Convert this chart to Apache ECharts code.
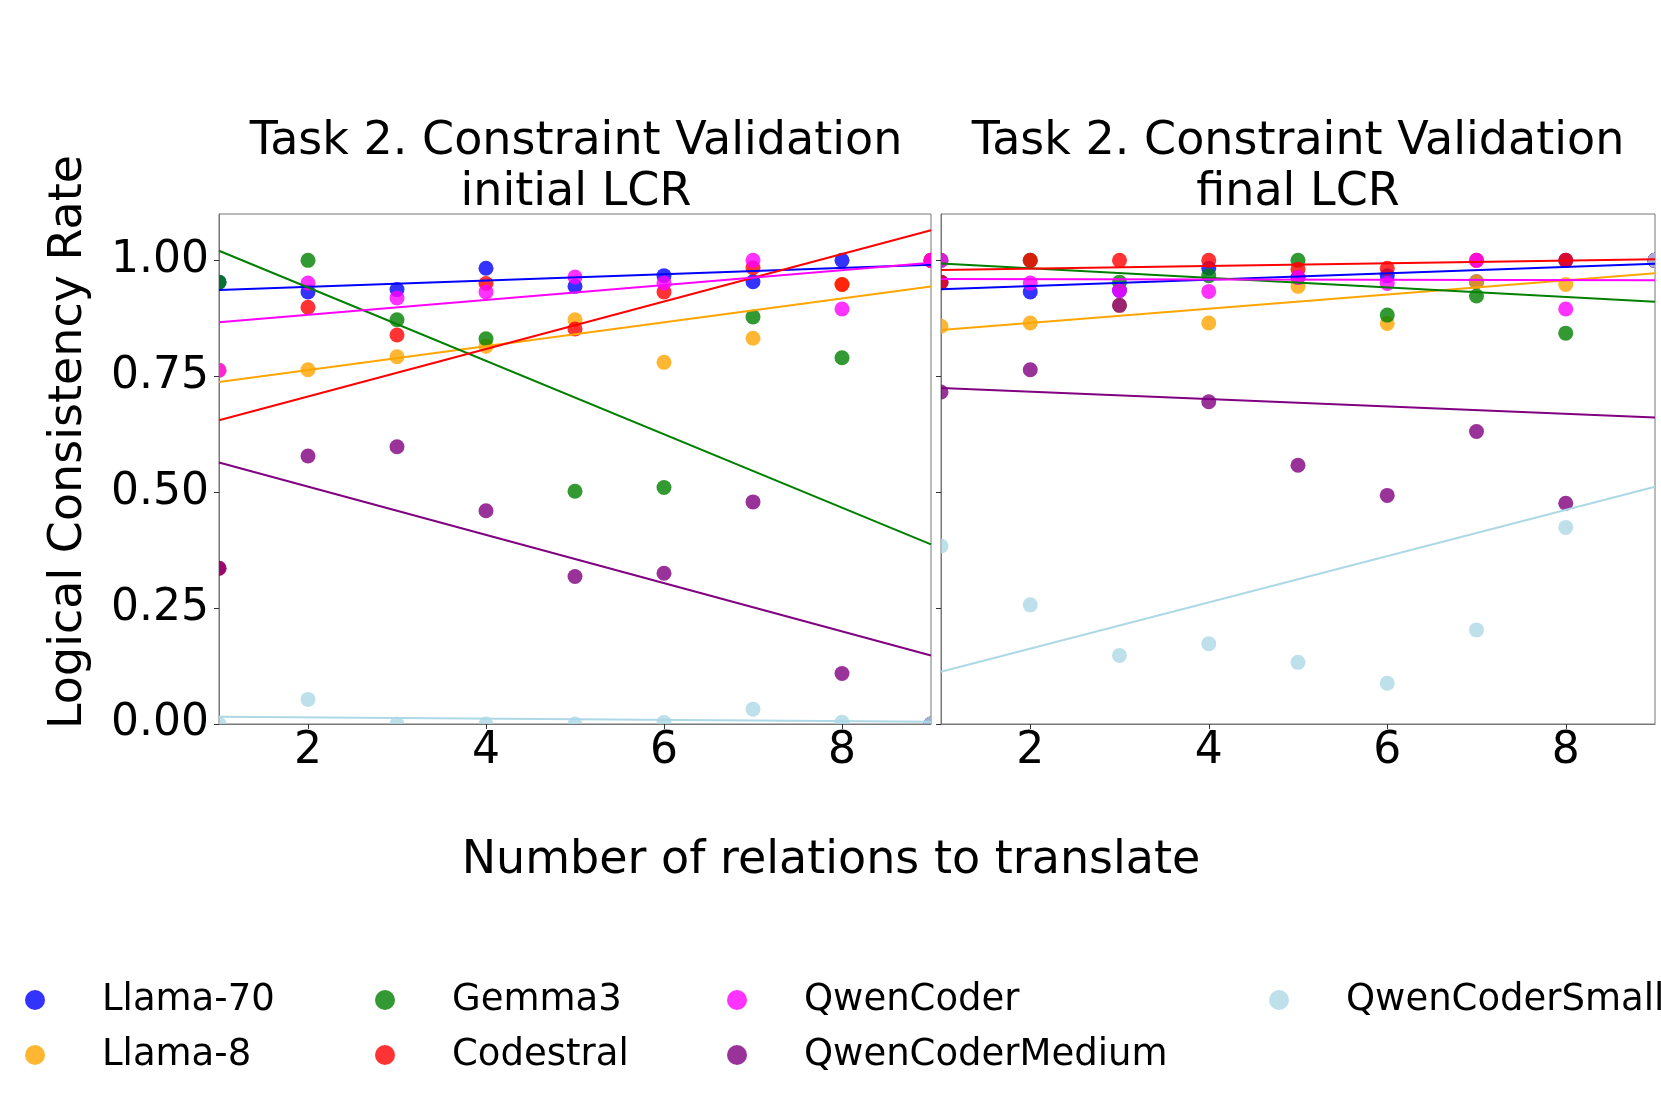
<!DOCTYPE html>
<html>
<head>
<meta charset="utf-8">
<script src="https://cdn.jsdelivr.net/npm/echarts@6/dist/echarts.min.js"></script>
<style>
html,body{margin:0;padding:0;background:#fff;}
#chart{width:1661px;height:1107px;}
</style>
</head>
<body>
<div id="chart"></div>
<script>
// ---- data ----
const xValues = [1, 2, 3, 4, 5, 6, 7, 8, 9];
const modelNames = ['Llama-70', 'Llama-8', 'Gemma3', 'Codestral', 'QwenCoder', 'QwenCoderMedium', 'QwenCoderSmall'];
const xTickValues = [2, 4, 6, 8];
const yTickValues = [0, 0.25, 0.5, 0.75, 1.0];

// initial LCR (left panel)
const initialLlama70   = [0.953, 0.932, 0.937, 0.983, 0.944, 0.967, 0.954, 1.000, 1.000];
const initialLlama8    = [0.763, 0.764, 0.792, 0.815, 0.872, 0.780, 0.832, 0.948, 1.000];
const initialGemma3    = [0.953, 1.000, 0.872, 0.831, 0.502, 0.510, 0.878, 0.790, 0.000];
const initialCodestral = [0.336, 0.899, 0.839, 0.950, 0.852, 0.932, 0.984, 0.948, 1.000];
const initialQwenCoder = [0.763, 0.951, 0.919, 0.932, 0.964, 0.951, 1.000, 0.895, 1.000];
const initialQwenCoderMedium = [0.336, 0.578, 0.598, 0.460, 0.318, 0.325, 0.479, 0.109, 0.000];
const initialQwenCoderSmall  = [0.000, 0.053, 0.000, 0.000, 0.000, 0.003, 0.032, 0.004, 0.000];

// final LCR (right panel)
const finalLlama70   = [0.953, 0.932, 0.935, 0.983, 0.963, 0.967, 0.954, 1.000, 1.000];
const finalLlama8    = [0.858, 0.865, 0.903, 0.865, 0.944, 0.864, 0.954, 0.948, 1.000];
const finalGemma3    = [1.000, 1.000, 0.953, 0.967, 1.000, 0.882, 0.923, 0.843, 1.000];
const finalCodestral = [0.953, 1.000, 1.000, 1.000, 0.981, 0.983, 1.000, 1.000, 1.000];
const finalQwenCoder = [1.000, 0.951, 0.935, 0.933, 0.963, 0.950, 1.000, 0.895, 1.000];
const finalQwenCoderMedium = [0.716, 0.764, 0.903, 0.695, 0.558, 0.493, 0.631, 0.476, 1.000];
const finalQwenCoderSmall  = [0.384, 0.257, 0.148, 0.173, 0.133, 0.088, 0.203, 0.424, 1.000];

const initialData = [initialLlama70, initialLlama8, initialGemma3, initialCodestral, initialQwenCoder, initialQwenCoderMedium, initialQwenCoderSmall];
const finalData = [finalLlama70, finalLlama8, finalGemma3, finalCodestral, finalQwenCoder, finalQwenCoderMedium, finalQwenCoderSmall];

// ---- styles ----
const lineColors = ['#0000ff', '#ffa500', '#008000', '#ff0000', '#ff00ff', '#800080', '#add8e6'];
const dotColors = ['rgba(0,0,255,0.8)', 'rgba(255,165,0,0.8)', 'rgba(0,128,0,0.8)', 'rgba(255,0,0,0.8)',
                   'rgba(255,0,255,0.8)', 'rgba(128,0,128,0.8)', 'rgba(173,216,230,0.8)'];
const FONT = 'DejaVu Sans';
const DOT_RADIUS = 7.5;

function linearFit(xs, ys) {
  const n = xs.length;
  let sx = 0, sy = 0, sxx = 0, sxy = 0;
  for (let i = 0; i < n; i++) { sx += xs[i]; sy += ys[i]; sxx += xs[i]*xs[i]; sxy += xs[i]*ys[i]; }
  const b = (n*sxy - sx*sy) / (n*sxx - sx*sx);
  const a = (sy - b*sx) / n;
  const x0 = xs[0], x1 = xs[n-1];
  return [[x0, a + b*x0], [x1, a + b*x1]];
}

const series = [];
[initialData, finalData].forEach((panel, p) => {
  panel.forEach((vals, i) => {
    const col = dotColors[i];
    series.push({
      type: 'custom', name: modelNames[i], xAxisIndex: p, yAxisIndex: p,
      clip: true,
      itemStyle: { color: col },
      encode: { x: 0, y: 1 },
      renderItem: function (params, api) {
        const pt = api.coord([api.value(0), api.value(1)]);
        return { type: 'circle', shape: { cx: pt[0], cy: pt[1], r: DOT_RADIUS }, style: { fill: col } };
      },
      data: xValues.map((x, j) => [x, vals[j]]),
      emphasis: { disabled: true }
    });
    series.push({
      type: 'line', name: modelNames[i] + ' trend', xAxisIndex: p, yAxisIndex: p,
      showSymbol: false, symbol: 'none',
      lineStyle: { color: lineColors[i], width: 2 },
      data: linearFit(xValues, vals),
      emphasis: { disabled: true }
    });
  });
});

function xAxisCfg(idx) {
  return {
    type: 'value', gridIndex: idx, min: 1, max: 9,
    axisLine: { show: true, lineStyle: { color: '#777', width: 1 } },
    axisTick: { show: true, length: 5, customValues: xTickValues, lineStyle: { color: '#333' } },
    axisLabel: { customValues: xTickValues, fontSize: 44, color: '#000', fontFamily: FONT, margin: 6 },
    splitLine: { show: false }
  };
}
function yAxisCfg(idx, labels) {
  return {
    type: 'value', gridIndex: idx, min: 0, max: 1.1,
    axisLine: { show: true, lineStyle: { color: '#777', width: 1 } },
    axisTick: { show: true, length: 5, customValues: yTickValues, lineStyle: { color: '#333' } },
    axisLabel: { show: labels, customValues: yTickValues, fontSize: 44, color: '#000', fontFamily: FONT, margin: 10,
                 formatter: v => v.toFixed(2) },
    splitLine: { show: false }
  };
}

function legendCfg(names, left) {
  return {
    data: names.map(n => ({ name: n, icon: 'circle', itemStyle: { color: dotColors[modelNames.indexOf(n)] } })),
    orient: 'vertical', left: left, top: 980, padding: 0,
    itemWidth: 20, itemHeight: 20, itemGap: 15,
    textStyle: { fontSize: 37, color: '#000', fontFamily: FONT, lineHeight: 40, padding: [0, 0, 0, 52] },
    selectedMode: false
  };
}

const option = {
  animation: false,
  backgroundColor: '#fff',
  title: [
    { text: 'Task 2. Constraint Validation\ninitial LCR', left: 571, top: 112, textAlign: 'center',
      textStyle: { fontSize: 46, fontWeight: 'normal', color: '#000', fontFamily: FONT, lineHeight: 51 } },
    { text: 'Task 2. Constraint Validation\nfinal LCR', left: 1293, top: 112, textAlign: 'center',
      textStyle: { fontSize: 46, fontWeight: 'normal', color: '#000', fontFamily: FONT, lineHeight: 51 } }
  ],
  grid: [
    { left: 219, top: 214, width: 712, height: 510, show: true, borderColor: '#777', borderWidth: 1, backgroundColor: 'transparent' },
    { left: 941, top: 214, width: 714, height: 510, show: true, borderColor: '#777', borderWidth: 1, backgroundColor: 'transparent' }
  ],
  xAxis: [xAxisCfg(0), xAxisCfg(1)],
  yAxis: [yAxisCfg(0, true), yAxisCfg(1, false)],
  legend: [
    legendCfg(['Llama-70', 'Llama-8'], 25),
    legendCfg(['Gemma3', 'Codestral'], 375),
    legendCfg(['QwenCoder', 'QwenCoderMedium'], 727),
    legendCfg(['QwenCoderSmall'], 1269)
  ],
  graphic: [
    { type: 'text', x: 69, y: 442, rotation: Math.PI / 2,
      style: { text: 'Logical Consistency Rate', fontSize: 46, fontFamily: FONT, fill: '#000',
               textAlign: 'center', textVerticalAlign: 'middle' } },
    { type: 'text', x: 831, y: 861,
      style: { text: 'Number of relations to translate', fontSize: 46, fontFamily: FONT, fill: '#000',
               textAlign: 'center', textVerticalAlign: 'middle' } }
  ],
  series: series
};

const chart = echarts.init(document.getElementById('chart'), null, { renderer: 'canvas' });
chart.setOption(option);
</script>
</body>
</html>
